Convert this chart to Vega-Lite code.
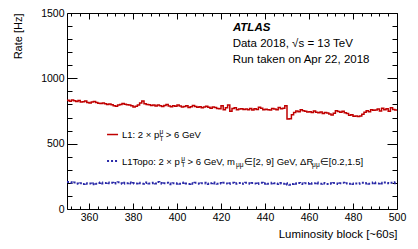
{
"$schema": "https://vega.github.io/schema/vega-lite/v6.json",
"width": 330,
"height": 196,
"autosize": {"type": "none"},
"padding": {"left": 67, "top": 13, "right": 21, "bottom": 40},
"datasets": {
"one": [{}],
"rates": [
{"lb":350,"l1":832,"topo":206},{"lb":351,"l1":825,"topo":204},{"lb":352,"l1":835,"topo":199},{"lb":353,"l1":828,"topo":203},{"lb":354,"l1":822,"topo":196},{"lb":355,"l1":830,"topo":194},{"lb":356,"l1":818,"topo":198},{"lb":357,"l1":820,"topo":191},{"lb":358,"l1":826,"topo":197},{"lb":359,"l1":815,"topo":193},
{"lb":360,"l1":812,"topo":195},{"lb":361,"l1":818,"topo":190},{"lb":362,"l1":822,"topo":198},{"lb":363,"l1":815,"topo":194},{"lb":364,"l1":810,"topo":199},{"lb":365,"l1":808,"topo":202},{"lb":366,"l1":812,"topo":196},{"lb":367,"l1":805,"topo":199},{"lb":368,"l1":800,"topo":203},{"lb":369,"l1":803,"topo":197},
{"lb":370,"l1":798,"topo":200},{"lb":371,"l1":790,"topo":196},{"lb":372,"l1":786,"topo":199},{"lb":373,"l1":795,"topo":205},{"lb":374,"l1":800,"topo":198},{"lb":375,"l1":808,"topo":194},{"lb":376,"l1":802,"topo":201},{"lb":377,"l1":798,"topo":197},{"lb":378,"l1":795,"topo":203},{"lb":379,"l1":790,"topo":196},
{"lb":380,"l1":781,"topo":199},{"lb":381,"l1":786,"topo":195},{"lb":382,"l1":795,"topo":201},{"lb":383,"l1":812,"topo":197},{"lb":384,"l1":826,"topo":194},{"lb":385,"l1":805,"topo":199},{"lb":386,"l1":800,"topo":203},{"lb":387,"l1":798,"topo":196},{"lb":388,"l1":792,"topo":198},{"lb":389,"l1":795,"topo":201},
{"lb":390,"l1":788,"topo":196},{"lb":391,"l1":796,"topo":207},{"lb":392,"l1":790,"topo":199},{"lb":393,"l1":785,"topo":194},{"lb":394,"l1":792,"topo":197},{"lb":395,"l1":800,"topo":201},{"lb":396,"l1":788,"topo":195},{"lb":397,"l1":782,"topo":190},{"lb":398,"l1":790,"topo":198},{"lb":399,"l1":786,"topo":194},
{"lb":400,"l1":795,"topo":197},{"lb":401,"l1":788,"topo":193},{"lb":402,"l1":780,"topo":199},{"lb":403,"l1":785,"topo":202},{"lb":404,"l1":790,"topo":196},{"lb":405,"l1":776,"topo":192},{"lb":406,"l1":782,"topo":198},{"lb":407,"l1":792,"topo":194},{"lb":408,"l1":785,"topo":200},{"lb":409,"l1":778,"topo":196},
{"lb":410,"l1":782,"topo":193},{"lb":411,"l1":775,"topo":198},{"lb":412,"l1":780,"topo":201},{"lb":413,"l1":786,"topo":195},{"lb":414,"l1":778,"topo":191},{"lb":415,"l1":772,"topo":197},{"lb":416,"l1":780,"topo":202},{"lb":417,"l1":776,"topo":196},{"lb":418,"l1":770,"topo":193},{"lb":419,"l1":768,"topo":199},
{"lb":420,"l1":790,"topo":195},{"lb":421,"l1":760,"topo":200},{"lb":422,"l1":775,"topo":196},{"lb":423,"l1":795,"topo":192},{"lb":424,"l1":748,"topo":198},{"lb":425,"l1":770,"topo":201},{"lb":426,"l1":775,"topo":194},{"lb":427,"l1":760,"topo":197},{"lb":428,"l1":765,"topo":199},{"lb":429,"l1":768,"topo":193},
{"lb":430,"l1":762,"topo":196},{"lb":431,"l1":765,"topo":201},{"lb":432,"l1":760,"topo":197},{"lb":433,"l1":770,"topo":193},{"lb":434,"l1":758,"topo":199},{"lb":435,"l1":768,"topo":195},{"lb":436,"l1":762,"topo":191},{"lb":437,"l1":778,"topo":197},{"lb":438,"l1":772,"topo":200},{"lb":439,"l1":760,"topo":194},
{"lb":440,"l1":764,"topo":198},{"lb":441,"l1":760,"topo":193},{"lb":442,"l1":757,"topo":196},{"lb":443,"l1":770,"topo":201},{"lb":444,"l1":765,"topo":197},{"lb":445,"l1":760,"topo":192},{"lb":446,"l1":776,"topo":196},{"lb":447,"l1":768,"topo":199},{"lb":448,"l1":772,"topo":194},{"lb":449,"l1":790,"topo":198},
{"lb":450,"l1":688,"topo":188},{"lb":451,"l1":690,"topo":185},{"lb":452,"l1":722,"topo":192},{"lb":453,"l1":738,"topo":197},{"lb":454,"l1":750,"topo":194},{"lb":455,"l1":745,"topo":199},{"lb":456,"l1":760,"topo":195},{"lb":457,"l1":752,"topo":191},{"lb":458,"l1":748,"topo":197},{"lb":459,"l1":742,"topo":193},
{"lb":460,"l1":745,"topo":199},{"lb":461,"l1":738,"topo":194},{"lb":462,"l1":750,"topo":197},{"lb":463,"l1":740,"topo":202},{"lb":464,"l1":736,"topo":196},{"lb":465,"l1":742,"topo":193},{"lb":466,"l1":730,"topo":199},{"lb":467,"l1":738,"topo":195},{"lb":468,"l1":735,"topo":192},{"lb":469,"l1":728,"topo":197},
{"lb":470,"l1":720,"topo":194},{"lb":471,"l1":732,"topo":199},{"lb":472,"l1":752,"topo":196},{"lb":473,"l1":746,"topo":192},{"lb":474,"l1":740,"topo":197},{"lb":475,"l1":748,"topo":201},{"lb":476,"l1":736,"topo":195},{"lb":477,"l1":730,"topo":198},{"lb":478,"l1":718,"topo":193},{"lb":479,"l1":722,"topo":196},
{"lb":480,"l1":710,"topo":191},{"lb":481,"l1":712,"topo":196},{"lb":482,"l1":708,"topo":193},{"lb":483,"l1":712,"topo":198},{"lb":484,"l1":725,"topo":201},{"lb":485,"l1":740,"topo":196},{"lb":486,"l1":752,"topo":199},{"lb":487,"l1":745,"topo":194},{"lb":488,"l1":760,"topo":197},{"lb":489,"l1":755,"topo":203},
{"lb":490,"l1":758,"topo":198},{"lb":491,"l1":765,"topo":195},{"lb":492,"l1":750,"topo":200},{"lb":493,"l1":772,"topo":196},{"lb":494,"l1":760,"topo":203},{"lb":495,"l1":768,"topo":199},{"lb":496,"l1":748,"topo":197},{"lb":497,"l1":775,"topo":201},{"lb":498,"l1":762,"topo":198},{"lb":499,"l1":758,"topo":204},
{"lb":500,"l1":758,"topo":204}
]
},
"layer": [
{
"data": {"name": "rates"},
"mark": {"type": "line", "interpolate": "step-after", "color": "#c00000", "strokeWidth": 1.5},
"encoding": {
"x": {"field": "lb", "type": "quantitative", "scale": {"domain": [350, 500], "nice": false, "zero": false},
"axis": {"orient": "bottom", "values": [360,380,400,420,440,460,480,500], "format": "d", "tickSize": -6, "labelPadding": 9, "labelFontSize": 10.5, "labelFlush": false, "labelOverlap": false, "domain": false, "grid": false, "title": "Luminosity block [~60s]", "titleAnchor": "end", "titleAlign": "right", "titleX": 330, "titlePadding": 6, "titleFontSize": 11.4}},
"y": {"field": "l1", "type": "quantitative", "scale": {"domain": [0, 1500], "nice": false, "zero": true},
"axis": {"orient": "left", "values": [0,500,1000,1500], "format": "d", "tickSize": -10, "labelPadding": 13, "labelFontSize": 10.5, "labelFlush": false, "labelOverlap": false, "domain": false, "grid": false, "title": "Rate [Hz]", "titleAnchor": "end", "titlePadding": 17, "titleFontSize": 11}}
}
},
{
"data": {"name": "rates"},
"mark": {"type": "line", "interpolate": "step-after", "color": "#2a2aa8", "strokeWidth": 2, "strokeDash": [2, 2]},
"encoding": {
"x": {"field": "lb", "type": "quantitative", "scale": {"domain": [350, 500], "nice": false, "zero": false},
"axis": {"orient": "top", "values": [360,380,400,420,440,460,480,500], "tickSize": -6, "labels": false, "domain": false, "grid": false, "title": null}},
"y": {"field": "topo", "type": "quantitative", "scale": {"domain": [0, 1500], "nice": false, "zero": true},
"axis": {"orient": "right", "values": [0,500,1000,1500], "tickSize": -10, "labels": false, "domain": false, "grid": false, "title": null}}
}
},
{
"data": {"name": "one"},
"mark": {"type": "rule", "color": "#c00000", "strokeWidth": 1.5},
"encoding": {
"x": {"datum": 368.2, "type": "quantitative", "scale": {"domain": [350, 500], "nice": false, "zero": false},
"axis": {"orient": "bottom", "values": [352,356,360,364,368,372,376,380,384,388,392,396,400,404,408,412,416,420,424,428,432,436,440,444,448,452,456,460,464,468,472,476,480,484,488,492,496], "tickSize": -3, "labels": false, "domain": false, "grid": false, "title": null}},
"x2": {"datum": 373.2},
"y": {"datum": 570, "type": "quantitative", "scale": {"domain": [0, 1500], "nice": false, "zero": true},
"axis": {"orient": "left", "values": [100,200,300,400,600,700,800,900,1100,1200,1300,1400], "tickSize": -5, "labels": false, "domain": false, "grid": false, "title": null}}
}
},
{
"data": {"name": "one"},
"mark": {"type": "rule", "color": "#2a2aa8", "strokeWidth": 2, "strokeDash": [2, 2]},
"encoding": {
"x": {"datum": 368.2, "type": "quantitative", "scale": {"domain": [350, 500], "nice": false, "zero": false},
"axis": {"orient": "top", "values": [352,356,360,364,368,372,376,380,384,388,392,396,400,404,408,412,416,420,424,428,432,436,440,444,448,452,456,460,464,468,472,476,480,484,488,492,496], "tickSize": -3, "labels": false, "domain": false, "grid": false, "title": null}},
"x2": {"datum": 373.2},
"y": {"datum": 367, "type": "quantitative", "scale": {"domain": [0, 1500], "nice": false, "zero": true},
"axis": {"orient": "right", "values": [100,200,300,400,600,700,800,900,1100,1200,1300,1400], "tickSize": -5, "labels": false, "domain": false, "grid": false, "title": null}}
}
},
{"data": {"name": "one"}, "mark": {"type": "text", "text": "ATLAS", "align": "left", "baseline": "alphabetic", "fontSize": 11.5, "fontStyle": "italic", "fontWeight": "bold", "color": "#000"},
"encoding": {"x": {"datum": 425.4, "type": "quantitative", "axis": null}, "y": {"datum": 1360, "type": "quantitative", "axis": null}}},
{"data": {"name": "one"}, "mark": {"type": "text", "text": "Data 2018, √s = 13 TeV", "align": "left", "baseline": "alphabetic", "fontSize": 11.5, "color": "#000"},
"encoding": {"x": {"datum": 425.3, "type": "quantitative", "axis": null}, "y": {"datum": 1242, "type": "quantitative", "axis": null}}},
{"data": {"name": "one"}, "mark": {"type": "text", "text": "Run taken on Apr 22, 2018", "align": "left", "baseline": "alphabetic", "fontSize": 11.5, "color": "#000"},
"encoding": {"x": {"datum": 425.3, "type": "quantitative", "axis": null}, "y": {"datum": 1115, "type": "quantitative", "axis": null}}},
{"data": {"name": "one"}, "mark": {"type": "text", "text": "L1: 2 × p", "align": "left", "baseline": "alphabetic", "fontSize": 9.5, "color": "#000"},
"encoding": {"x": {"datum": 375.0, "type": "quantitative", "axis": null}, "y": {"datum": 545, "type": "quantitative", "axis": null}}},
{"data": {"name": "one"}, "mark": {"type": "text", "text": "μ", "align": "left", "baseline": "alphabetic", "fontSize": 6.6, "color": "#000"},
"encoding": {"x": {"datum": 392.0, "type": "quantitative", "axis": null}, "y": {"datum": 574, "type": "quantitative", "axis": null}}},
{"data": {"name": "one"}, "mark": {"type": "text", "text": "T", "align": "left", "baseline": "alphabetic", "fontSize": 6.6, "color": "#000"},
"encoding": {"x": {"datum": 392.0, "type": "quantitative", "axis": null}, "y": {"datum": 524, "type": "quantitative", "axis": null}}},
{"data": {"name": "one"}, "mark": {"type": "text", "text": "> 6 GeV", "align": "left", "baseline": "alphabetic", "fontSize": 9.5, "color": "#000"},
"encoding": {"x": {"datum": 394.9, "type": "quantitative", "axis": null}, "y": {"datum": 545, "type": "quantitative", "axis": null}}},
{"data": {"name": "one"}, "mark": {"type": "text", "text": "L1Topo: 2 × p", "align": "left", "baseline": "alphabetic", "fontSize": 9.5, "color": "#000"},
"encoding": {"x": {"datum": 375.0, "type": "quantitative", "axis": null}, "y": {"datum": 340, "type": "quantitative", "axis": null}}},
{"data": {"name": "one"}, "mark": {"type": "text", "text": "μ", "align": "left", "baseline": "alphabetic", "fontSize": 6.6, "color": "#000"},
"encoding": {"x": {"datum": 401.9, "type": "quantitative", "axis": null}, "y": {"datum": 369, "type": "quantitative", "axis": null}}},
{"data": {"name": "one"}, "mark": {"type": "text", "text": "T", "align": "left", "baseline": "alphabetic", "fontSize": 6.6, "color": "#000"},
"encoding": {"x": {"datum": 401.9, "type": "quantitative", "axis": null}, "y": {"datum": 319, "type": "quantitative", "axis": null}}},
{"data": {"name": "one"}, "mark": {"type": "text", "text": "> 6 GeV, m", "align": "left", "baseline": "alphabetic", "fontSize": 9.5, "color": "#000"},
"encoding": {"x": {"datum": 404.8, "type": "quantitative", "axis": null}, "y": {"datum": 340, "type": "quantitative", "axis": null}}},
{"data": {"name": "one"}, "mark": {"type": "text", "text": "μμ", "align": "left", "baseline": "alphabetic", "fontSize": 6.6, "color": "#000"},
"encoding": {"x": {"datum": 426.8, "type": "quantitative", "axis": null}, "y": {"datum": 319, "type": "quantitative", "axis": null}}},
{"data": {"name": "one"}, "mark": {"type": "text", "text": "∈[2, 9] GeV, ΔR", "align": "left", "baseline": "alphabetic", "fontSize": 9.5, "color": "#000"},
"encoding": {"x": {"datum": 430.4, "type": "quantitative", "axis": null}, "y": {"datum": 340, "type": "quantitative", "axis": null}}},
{"data": {"name": "one"}, "mark": {"type": "text", "text": "μμ", "align": "left", "baseline": "alphabetic", "fontSize": 6.6, "color": "#000"},
"encoding": {"x": {"datum": 461.4, "type": "quantitative", "axis": null}, "y": {"datum": 319, "type": "quantitative", "axis": null}}},
{"data": {"name": "one"}, "mark": {"type": "text", "text": "∈[0.2,1.5]", "align": "left", "baseline": "alphabetic", "fontSize": 9.5, "color": "#000"},
"encoding": {"x": {"datum": 464.9, "type": "quantitative", "axis": null}, "y": {"datum": 340, "type": "quantitative", "axis": null}}}
],
"resolve": {"axis": {"x": "independent", "y": "independent"}},
"config": {
"font": "Liberation Sans",
"view": {"stroke": "#000", "strokeWidth": 1},
"axis": {"labelFont": "Liberation Sans", "titleFont": "Liberation Sans", "labelColor": "#000", "titleColor": "#000", "tickColor": "#000", "tickWidth": 1, "titleFontWeight": "normal"},
"text": {"font": "Liberation Sans"}
}
}
